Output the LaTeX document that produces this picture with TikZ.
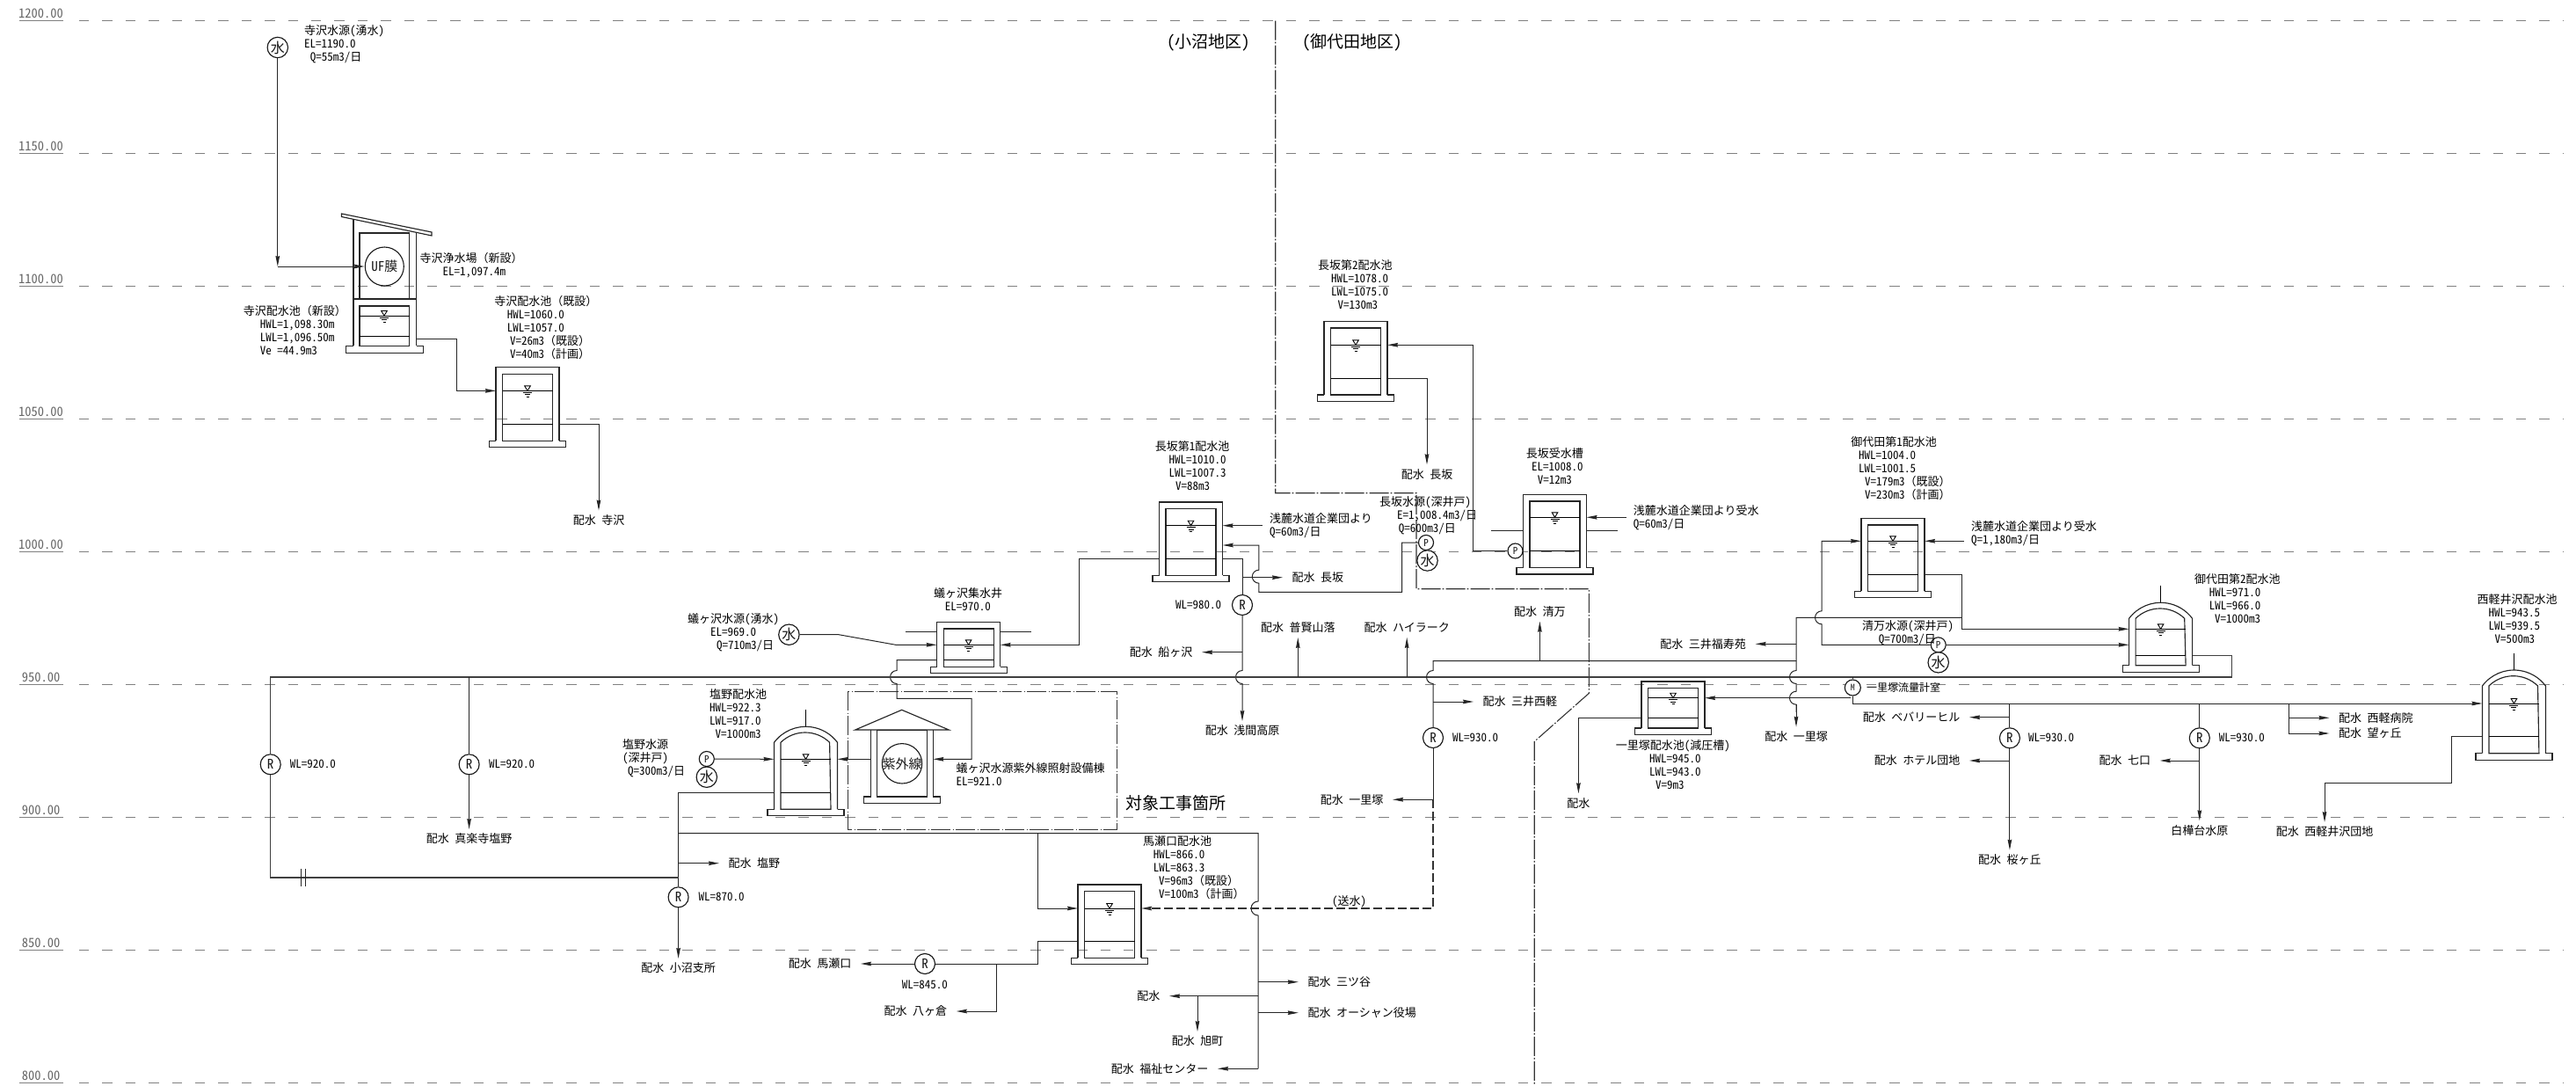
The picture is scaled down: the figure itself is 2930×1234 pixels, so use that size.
\documentclass[tikz,border=0pt]{standalone}
\usepackage{fontspec}
\setmainfont{Noto Sans CJK JP}[RawFeature={+hwid}]
\newfontfamily\fullw{Noto Sans CJK JP}
\newcommand\kk[1]{{\fullw （}#1{\fullw ）}}
\usetikzlibrary{arrows.meta}
\newcommand\hopd{arc[start angle=90,end angle=270,radius=7.5pt]}
\newcommand\hopu{arc[start angle=270,end angle=90,radius=7.5pt]}
\newcommand\wsym[2]{%
  \draw[thin1] (#1-3.3,#2-5.5) -- (#1+3.3,#2-5.5) -- (#1,#2) -- cycle;
  \draw[thin1] (#1-5,#2+2) -- (#1+5,#2+2) (#1-3,#2+4.5) -- (#1+3,#2+4.5) (#1-1.5,#2+7) -- (#1+1.5,#2+7);}
% name, cx, top, water, low, inner bottom
\newcommand\recttank[6]{%
  \draw[wall] (#2-36,#6) -- (#2-36,#3) -- (#2+36,#3) -- (#2+36,#6);
  \draw[wall] (#2-36,#6) -- (#2-43.5,#6) -- (#2-43.5,#6+7.5) -- (#2+43.5,#6+7.5) -- (#2+43.5,#6) -- (#2+36,#6);
  \draw[wall] (#2-28.5,#3+7.7) rectangle (#2+28.5,#6);
  \draw[thin1] (#2-28.5,#4) -- (#2+28.5,#4) (#2-28.5,#5) -- (#2+28.5,#5);
  \wsym{#2}{#4}
  \coordinate (#1-wl) at (#2-36,#4); \coordinate (#1-wr) at (#2+36,#4);
  \coordinate (#1-ll) at (#2-36,#5); \coordinate (#1-lr) at (#2+36,#5);}
% name, cx, spring, water, low, inner bottom
\newcommand\dometank[6]{%
  \draw[thin1] (#2,#3-37.5) -- (#2,#3-18);
  \draw[wall] (#2-36,#6) -- (#2-36,#3) arc[start angle=143.13,end angle=36.87,radius=45pt] -- (#2+36,#6);
  \draw[wall] (#2-36,#6) -- (#2-43.5,#6) -- (#2-43.5,#6+7.5) -- (#2+43.5,#6+7.5) -- (#2+43.5,#6) -- (#2+36,#6);
  \draw[wall] (#2-28.5,#6) -- (#2-28.5,#3) arc[start angle=134.3,end angle=45.7,radius=39.8pt] -- (#2+28.5,#6) -- cycle;
  \draw[thin1] (#2-28.5,#4) -- (#2+28.5,#4) (#2-28.5,#5) -- (#2+28.5,#5);
  \wsym{#2}{#4}
  \coordinate (#1-wl) at (#2-36,#4); \coordinate (#1-wr) at (#2+36,#4);
  \coordinate (#1-ll) at (#2-36,#5); \coordinate (#1-lr) at (#2+36,#5);}
\newcommand\block[4]{\node[mlbl] (#1) at (#2,#3-7.5) {#4};}
\newcommand\indt[1]{\leavevmode\hskip#1pt\relax}
\begin{document}
\begin{tikzpicture}[x=1pt,y=-1pt,
  >={Stealth[length=12pt,width=4.6pt,inset=1pt]},
  pipe/.style={line width=1pt,black!85},
  mainpipe/.style={line width=1.3pt,black!75},
  dashpipe/.style={line width=1.1pt,black!80,dash pattern=on 10pt off 4pt},
  thin1/.style={line width=.9pt,black},
  wall/.style={line width=1.15pt,black!85},
  gridline/.style={line width=1.3pt,black!50,dash pattern=on 11.4pt off 15pt},
  levline/.style={line width=1pt,black!50},
  levlbl/.style={inner sep=0pt,text=black!60,font=\fontsize{14.5}{16}\selectfont},
  zone/.style={line width=1.1pt,black!80,dash pattern=on 22pt off 2.2pt on 1.6pt off 2.2pt},
  lbl/.style={inner sep=0pt,anchor=west,font=\fontsize{13}{15}\selectfont,text height=11pt,text depth=1.5pt},
  mlbl/.style={inner sep=0pt,anchor=north west,align=left,font=\fontsize{13}{15}\selectfont},
  big/.style={inner sep=0pt,anchor=west,font=\fontsize{19}{21}\selectfont},
  dst/.style={inner xsep=10.5pt,inner ysep=4.75pt,font=\fontsize{13}{15}\selectfont,text height=11pt,text depth=1.5pt},
  dstD/.style={dst,anchor=north},
  dstU/.style={dst,anchor=south},
  dstR/.style={dst,anchor=west},
  dstL/.style={dst,anchor=east},
  sym/.style={circle,draw,line width=1.15pt,black!90,fill=white,inner sep=0pt},
  mizu/.style={sym,minimum size=23.4pt,font=\fontsize{16}{16}\selectfont},
  rsym/.style={sym,minimum size=23pt,font=\fontsize{15}{15}\selectfont},
  psym/.style={sym,minimum size=17pt,font=\fontsize{11}{11}\selectfont},
  msym/.style={sym,minimum size=18pt,font=\fontsize{10}{10}\selectfont},
  plant/.style={sym,fill=none,line width=1.1pt},
]
\useasboundingbox (0,0) rectangle (2930,1234);
% level grid
\foreach \lev/\yy [count=\i] in {1200.00/23.5,1150.00/174.5,1100.00/325.5,1050.00/476.5,1000.00/627.5,950.00/778.5,900.00/929.5,850.00/1080.5,800.00/1231.5}{
  \draw[gridline] (90,\yy) -- (2915,\yy);
  \draw[levline] (21.5,\yy) -- (72,\yy);
  \node[levlbl] (lev\i) at (46.5,\yy-8.5) {\lev};
}
% zone boundaries
\draw[zone] (1450.7,23.5) -- (1450.7,560.7) -- (1611,560.7) -- (1611,669.7) -- (1807.4,669.7) -- (1807.4,788.3) -- (1745.2,843.3) -- (1745.2,1234);
\draw[zone] (964.3,786.3) rectangle (1270.3,943.3);
\node[big] (zoneA) at (1327,48.3) {(小沼地区)};
\node[big] (zoneB) at (1481,48.3) {(御代田地区)};
\node[big] (target) at (1280.7,913.3) {対象工事箇所};

% Terasawa plant
\draw[wall] (388.5,243) -- (491,264) -- (491,268) -- (388.5,246.5) -- cycle;
\draw[wall] (402,249.4) -- (402,393.4) (473.7,264.4) -- (473.7,393.4);
\draw[wall] (409,340) -- (409,265) -- (465.5,265) -- (465.5,340);
\draw[wall] (402,340) -- (473.7,340);
\draw[wall] (409,348) rectangle (465.5,393.4);
\draw[wall] (402,393.4) -- (393.8,393.4) -- (393.8,401.3) -- (481.3,401.3) -- (481.3,393.4) -- (473.7,393.4);
\draw[thin1] (409,359) -- (465.5,359) (409,382) -- (465.5,382);
\wsym{437}{359}
\coordinate (t1-lr) at (473.7,385.5);
\node[plant,minimum size=44pt,font=\fontsize{15}{15}\selectfont] (uf) at (437.3,303) {\makebox[0pt]{UF膜}};
\recttank{t2}{600}{417.5}{444.4}{482.4}{501.4}
\recttank{n2}{1542}{365.3}{392.3}{430}{449}
\recttank{n1}{1354.5}{571}{597.7}{635}{654.3}
\recttank{uke}{1768.5}{562.3}{588.3}{626.3}{645.5}
\recttank{ari}{1101.6}{707.3}{733.3}{750.7}{758.3}
\recttank{mase}{1262}{1006}{1033}{1070.7}{1089.3}
\recttank{ichi}{1903}{775}{793.7}{816.3}{828}
\recttank{mi1}{2153}{589.3}{615.3}{653.3}{672.3}
\dometank{shio}{916.5}{844.3}{863.3}{901.3}{920.3}
\dometank{mi2}{2457.6}{703.3}{715.3}{745.7}{756.7}
\dometank{nishi}{2859.4}{780}{800}{837.7}{856.7}
% stubs on tanks
\draw[pipe] (1696.4,603.7) -- (1732.5,603.7) (1804.5,603.7) -- (1840,603.7);
\draw[pipe] (1029.6,718.3) -- (1065.6,718.3) (1137.6,718.3) -- (1173.3,718.3);
% UV building
\draw[wall] (1025.7,807.3) -- (1079.3,830) -- (972.7,830) -- cycle;
\draw[wall] (990.7,830) -- (990.7,906) -- (982.3,906) -- (982.3,913.7) -- (1069.7,913.7) -- (1069.7,906) -- (1061.3,906) -- (1061.3,830);
\draw[wall] (997.7,830.3) rectangle (1054.3,906);
\node[plant,minimum size=45.4pt,font=\fontsize{15}{15}\selectfont] (uv) at (1026,868.3) {\makebox[0pt]{紫外線}};
\coordinate (uv-l) at (990.7,863.3);
\coordinate (uv-r) at (1061.3,863.3);

% sources, pumps, valves
\node[mizu] (s1) at (315.8,54) {水};
\node[mizu] (s2) at (897.4,721.7) {水};
\node[mizu] (s3) at (803.8,883.7) {水};
\node[psym] (p3a) at (803.8,863) {P};
\node[mizu] (s4) at (1623.5,637.5) {水};
\node[psym] (p4) at (1622,617) {P};
\node[psym] (p5) at (1723.5,626.5) {P};
\node[mizu] (s6) at (2204.7,753.3) {水};
\node[psym] (p6) at (2204.7,733.3) {P};
\node[msym] (mm) at (2107.3,782) {M};
\node[rsym] (r1) at (307.7,869.3) {R};
\node[rsym] (r2) at (533.6,869.3) {R};
\node[rsym] (r3) at (771.6,1020.3) {R};
\node[rsym] (r4) at (1413,688) {R};
\node[rsym] (r5) at (1052,1096) {R};
\node[rsym] (r6) at (1630,839) {R};
\node[rsym] (r7) at (2285.9,839.3) {R};
\node[rsym] (r8) at (2501.8,839.3) {R};

% text blocks
\block{a1}{346}{35.6}{寺沢水源(湧水)\\EL=1190.0\\\indt{6.6}Q=55m3/日}
\block{a2}{477.5}{295}{寺沢浄水場\kk{新設}\\\indt{25.8}EL=1,097.4m}
\block{a3}{276.6}{354.7}{寺沢配水池\kk{新設}\\\indt{19}HWL=1,098.30m\\\indt{19}LWL=1,096.50m\\\indt{19}Ve =44.9m3}
\block{a4}{562.2}{343.2}{寺沢配水池\kk{既設}\\\indt{14.4}HWL=1060.0\\\indt{14.4}LWL=1057.0\\\indt{17.8}V=26m3\kk{既設}\\\indt{17.8}V=40m3\kk{計画}}
\block{b1}{1498.8}{303.3}{長坂第2配水池\\\indt{15.2}HWL=1078.0\\\indt{15.2}LWL=1075.0\\\indt{22.5}V=130m3}
\block{b2}{1313.6}{509.3}{長坂第1配水池\\\indt{15.8}HWL=1010.0\\\indt{15.8}LWL=1007.3\\\indt{23.4}V=88m3}
\block{b3}{1735.6}{516.7}{長坂受水槽\\\indt{6.3}EL=1008.0\\\indt{13}V=12m3}
\block{b4}{1569}{572.3}{長坂水源(深井戸)\\\indt{19.8}E=1,008.4m3/日\\\indt{21.7}Q=600m3/日}
\block{b5}{1443.8}{590.7}{浅麓水道企業団より\\Q=60m3/日}
\block{b6}{1857.7}{581.7}{浅麓水道企業団より受水\\Q=60m3/日}
\block{c1}{782}{705}{蟻ヶ沢水源(湧水)\\\indt{26}EL=969.0\\\indt{33}Q=710m3/日}
\block{c2}{1062}{675.7}{蟻ヶ沢集水井\\\indt{12.6}EL=970.0}
\block{c3}{806.8}{790.7}{塩野配水池\\HWL=922.3\\LWL=917.0\\\indt{6.7}V=1000m3}
\block{c4}{708}{848}{塩野水源\\(深井戸)\\\indt{6}Q=300m3/日}
\block{c5}{1087.3}{875}{蟻ヶ沢水源紫外線照射設備棟\\EL=921.0}
\block{d1}{1299.8}{957.7}{馬瀬口配水池\\\indt{11.9}HWL=866.0\\\indt{11.9}LWL=863.3\\\indt{18.2}V=96m3\kk{既設}\\\indt{18.2}V=100m3\kk{計画}}
\block{e1}{1837.6}{849.3}{一里塚配水池(減圧槽)\\\indt{38.4}HWL=945.0\\\indt{38.4}LWL=943.0\\\indt{45.4}V=9m3}
\block{f1}{2105.2}{504}{御代田第1配水池\\\indt{8.8}HWL=1004.0\\\indt{8.8}LWL=1001.5\\\indt{15.8}V=179m3\kk{既設}\\\indt{15.8}V=230m3\kk{計画}}
\block{f2}{2242}{600}{浅麓水道企業団より受水\\Q=1,180m3/日}
\block{f3}{2118}{713.3}{清万水源(深井戸)\\\indt{18.7}Q=700m3/日}
\block{f4}{2496}{660}{御代田第2配水池\\\indt{16.7}HWL=971.0\\\indt{16.7}LWL=966.0\\\indt{23}V=1000m3}
\block{g1}{2817.3}{683.3}{西軽井沢配水池\\\indt{13}HWL=943.5\\\indt{13}LWL=939.5\\\indt{20.2}V=500m3}
% WL labels
\node[lbl] (w1) at (329.6,869) {WL=920.0};
\node[lbl] (w2) at (556,869) {WL=920.0};
\node[lbl] (w3) at (794.4,1020) {WL=870.0};
\node[lbl] (w4) at (1337,688) {WL=980.0};
\node[lbl] (w5) at (1025.6,1120) {WL=845.0};
\node[lbl] (w6) at (1652,839) {WL=930.0};
\node[lbl] (w7) at (2307,839) {WL=930.0};
\node[lbl] (w8) at (2523.7,839) {WL=930.0};
\node[lbl] (soui) at (1515,1025) {(送水)};
\node[lbl,font=\fontsize{12}{14}\selectfont] (mlab) at (2123,782) {一里塚流量計室};

% destination labels
\node[dstD] (d-tera) at (681,580.5) {配水 寺沢};
\node[dstD] (d-naga2) at (1623,528.3) {配水 長坂};
\node[dstR] (d-naga1) at (1459,656.7) {配水 長坂};
\node[dstD] (d-asama) at (1413,820) {配水 浅間高原};
\node[dstL] (d-funa) at (1367,741.7) {配水 船ヶ沢};
\node[dstU] (d-fugen) at (1476.3,725) {配水 普賢山落};
\node[dstU] (d-high) at (1600.2,725) {配水 ハイラーク};
\node[dstU] (d-kiyo) at (1751.4,706.7) {配水 清万};
\node[dstD] (d-shinra) at (533.6,943) {配水 真楽寺塩野};
\node[dstR] (d-shio) at (818,981.7) {配水 塩野};
\node[dstD] (d-konu) at (771.6,1090) {配水 小沼支所};
\node[dstL] (d-mase) at (979,1096) {配水 馬瀬口};
\node[dstL] (d-yatsu) at (1087.8,1150) {配水 八ヶ倉};
\node[dstR] (d-mitsu) at (1476.8,1116.7) {配水 三ツ谷};
\node[dstR] (d-ocean) at (1476.8,1151.7) {配水 オーシャン役場};
\node[dstL] (d-hai) at (1330,1132.7) {配水};
\node[dstD] (d-asahi) at (1362,1173) {配水 旭町};
\node[dstL] (d-fuku) at (1385,1215.3) {配水 福祉センター};
\node[dstR] (d-sanken) at (1676,798) {配水 三井西軽};
\node[dstL] (d-ichiL) at (1584,909.3) {配水 一里塚};
\node[dstD] (d-ichiH) at (1795.4,902.3) {配水};
\node[dstL] (d-fuku2) at (1996.6,732.3) {配水 三井福寿苑};
\node[dstD] (d-ichiD) at (2043,826.7) {配水 一里塚};
\node[dstL] (d-beb) at (2240,815.7) {配水 ベバリーヒル};
\node[dstL] (d-hotel) at (2240,865) {配水 ホテル団地};
\node[dstD] (d-saku) at (2285.9,966.7) {配水 桜ヶ丘};
\node[dstL] (d-nana) at (2456.7,865) {配水 七口};
\node[dstD] (d-shira) at (2501.8,933.3) {白樺台水原};
\node[dstR] (d-nhos) at (2649.5,816.3) {配水 西軽病院};
\node[dstR] (d-nozo) at (2649.5,834) {配水 望ヶ丘};
\node[dstD] (d-ndan) at (2644,935) {配水 西軽井沢団地};

% junction coordinates
\coordinate (tr) at (0,770);
\coordinate (c1) at (315.8,303);
\coordinate (vA) at (1431,947.7);
\coordinate (vC) at (1413,635);
\coordinate (vB) at (1630,751.7);
\coordinate (vD) at (2043,702.3);
\coordinate (h1) at (2231.2,702.3);
\coordinate (vS) at (771.6,947.7);
\coordinate (bM) at (1180.6,1096);
\coordinate (y800) at (2107.3,800);
\coordinate (f-n1a) at (1435.6,597.7);
\coordinate (n1-in) at (1390.7,620);
\coordinate (f-uke) at (1849.5,588.3);
\coordinate (f-mi1) at (2234,615.3);
\coordinate (mi2-in) at (2421.6,733.3);
\coordinate (mleft) at (2105,793.7);
\coordinate (vR) at (2043,751.7);

% Terasawa pipes
\draw[pipe,->] (s1) -- (c1);
\draw[pipe,->] (c1) -- (uf);
\draw[pipe,->] (t1-lr) -| (519,444.4) -- (t2-wl);
\draw[pipe,->] (t2-lr) -| (d-tera.north);
% Nagasaka 2
\draw[pipe,->] (p5) -- (1675.8,626.5) -- (1675.8,392.3) -- (n2-wr);
\draw[pipe,->] (n2-lr) -| (d-naga2.north);
\draw[pipe,->] (f-uke) -- (uke-wr);
% Nagasaka 1
\draw[pipe,->] (f-n1a) -- (n1-wr);
\draw[pipe,->] (p4) -- (1594.5,617) -- (1594.5,673.3) -- (1431.8,673.3) -- (1431.8,663.2) \hopu -- (1431.8,620) -- (n1-in);
\draw[pipe] (n1-lr) -- (vC) -- (r4);
\draw[pipe,->] (r4) -- (1413,762.5) \hopd -- (d-asama.north);
\draw[pipe,->] (vC |- d-naga1.west) -- (d-naga1.west);
\draw[pipe,->] (vC |- d-funa.east) -- (d-funa.east);
% Arigasawa
\draw[pipe,->] (s2) -- (954,721.7) -- (1018.8,733.3) -- (ari-wl);
\draw[pipe,->] (n1-ll) -| (1227.8,733.3) -- (ari-wr);
\draw[pipe,->] (ari-ll) -- (1020,750.7) -- (1020,762.5) \hopd -- (1020,794.3) -- (1105,794.3) -- (1105,863.3) -- (uv-r);
\draw[pipe,->] (uv-l) -- (shio-wr);
% Shiono
\draw[pipe,->] (p3a) -- (shio-wl);
\draw[pipe] (shio-ll) -| (r3);
\draw[pipe,->] (r3) -- (d-konu.north);
\draw[pipe,->] (vS |- d-shio.west) -- (d-shio.west);
\draw[pipe] (vS) -- (vA) -- (1431,1025) arc[start angle=90,end angle=270,radius=8pt] -- (1431,1215.3);
\draw[pipe,->] (1431,1215.3) -- (d-fuku.east);
\draw[pipe,->] (vA |- d-mitsu.west) -- (d-mitsu.west);
\draw[pipe,->] (vA |- d-ocean.west) -- (d-ocean.west);
\draw[pipe,->] (vA |- d-hai.east) -- (d-hai.east);
\draw[pipe,->] (d-asahi.north |- d-hai.east) -- (d-asahi.north);
% Mase
\draw[pipe,->] (1180.6,947.7) -- (1180.6,1033) -- (mase-wl);
\draw[pipe] (mase-ll) -- (1180.6,1070.7) -- (bM) -- (r5);
\draw[pipe,->] (r5) -- (d-mase.east);
\draw[pipe,->] (1133.7,1096) |- (d-yatsu.east);
\draw[dashpipe,->] (1630,909.3) -- (1630,1033) -- (mase-wr);
% main trunk
\draw[mainpipe] (mi2-lr) -- (2538.5,745.7) -- (2538.5,770) -- (307.7,770) -- (r1);
\draw[mainpipe] (r1) -- (307.7,998) -- (771.6,998);
\draw[pipe] (342,988.3) -- (342,1007.7) (347.4,988.3) -- (347.4,1007.7);
\draw[pipe] (r2 |- tr) -- (r2);
\draw[pipe,->] (r2) -- (d-shinra.north);
\draw[pipe,->] (d-fugen.south |- tr) -- (d-fugen.south);
\draw[pipe,->] (d-high.south |- tr) -- (d-high.south);
% Ichirizuka west branch
\draw[pipe] (vR) -- (vB) -- (1630,762.5) \hopd -- (r6);
\draw[pipe] (r6) -- (1630,909.3);
\draw[pipe,->] (1630,798) -- (d-sanken.west);
\draw[pipe,->] (1630,909.3) -- (d-ichiL.east);
\draw[pipe,->] (d-kiyo.south |- vB) -- (d-kiyo.south);
% Miyota
\draw[pipe,->] (mi1-lr) -- (2231.2,653.3) -- (2231.2,715.3) -- (mi2-wl);
\draw[pipe] (h1) -- (vD) -- (2043,762.5) \hopd -- (2043,786.2) \hopd -- (2043,810);
\draw[pipe,->] (2043,801) -- (d-ichiD.north);
\draw[pipe,->] (p6) -- (2072,733.3) -- (2072,709.8) \hopu -- (2072,615.3) -- (mi1-wl);
\draw[pipe,->] (p6) -- (mi2-in);
\draw[pipe,->] (f-mi1) -- (mi1-wr);
\draw[pipe,->] (vD |- d-fuku2.east) -- (d-fuku2.east);
% Ichirizuka tank
\draw[pipe,->] (mleft) -- (ichi-wr);
\draw[pipe,->] (ichi-ll) -| (d-ichiH.north);
\draw[pipe] (mm |- tr) -- (mm);
\draw[pipe] (mm) -- (y800);
\draw[pipe,->] (y800) -- (nishi-wl);
% West-Karuizawa branches
\draw[pipe] (r7 |- y800) -- (r7);
\draw[pipe,->] (r7) -- (d-saku.north);
\draw[pipe,->] (r7 |- d-beb.east) -- (d-beb.east);
\draw[pipe,->] (r7 |- d-hotel.east) -- (d-hotel.east);
\draw[pipe] (r8 |- y800) -- (r8);
\draw[pipe,->] (r8) -- (d-shira.north);
\draw[pipe,->] (r8 |- d-nana.east) -- (d-nana.east);
\draw[pipe,->] (2603.8,800) |- (d-nozo.west);
\draw[pipe,->] (2603.8,816.3) -- (d-nhos.west);
\draw[pipe,->] (nishi-ll) -- (2788.2,837.7) -- (2788.2,890.7) -- (2644,890.7) -- (d-ndan.north);
\end{tikzpicture}
\end{document}
